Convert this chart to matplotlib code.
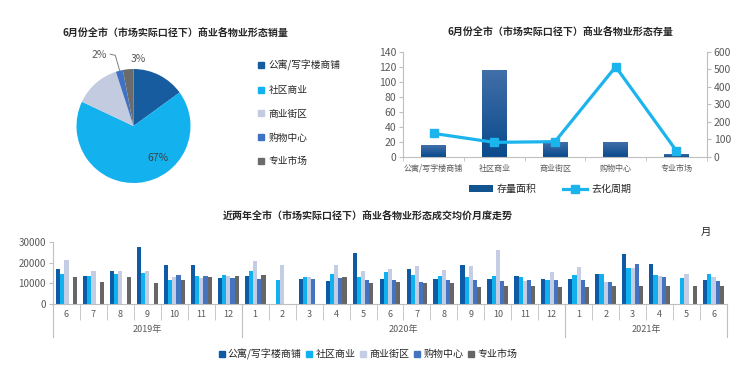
import numpy as np
import matplotlib.pyplot as plt
from matplotlib.colors import LinearSegmentedColormap
from matplotlib.lines import Line2D
from matplotlib.patches import Patch

plt.rcParams['font.family'] = ['Noto Sans CJK SC', 'DejaVu Sans']

# 物业形态
types = ['公寓/写字楼商铺', '社区商业', '商业街区', '购物中心', '专业市场']
type_colors = ['#0E5AA5', '#10B1EF', '#C5CDE4', '#4474C0', '#666666']

# 6月份销量占比 (%)
sales_share = [15, 67, 13, 2, 3]

# 6月份存量
stock_area = [16, 116, 19, 19, 4]        # 存量面积
stock_cycle = [133, 82, 86, 514, 34]     # 去化周期

# 近两年月度成交均价
months = ['6', '7', '8', '9', '10', '11', '12',
          '1', '2', '3', '4', '5', '6', '7', '8', '9', '10', '11', '12',
          '1', '2', '3', '4', '5', '6']
years = ['2019年', '2020年', '2021年']
year_months = [7, 12, 6]
nan = np.nan
price_office = [16900, 13600, 15800, 27400, 18700, 18800, 12500,
                13600, nan, 12300, 11200, 24600, 12300, 16900, 12300, 18700, 12300, 13600, 12300,
                12300, 14700, 23900, 19100, nan, 11500]
price_community = [14500, 13600, 14700, 15000, 11800, 13600, 14000,
                   15800, 11500, 13200, 14700, 13200, 15500, 14000, 13600, 13200, 13600, 12900, 11800,
                   14000, 14400, 17500, 13900, 12400, 14400]
price_street = [21300, 15800, 16100, 15800, 13200, 12500, 13600,
                20700, 18800, 12900, 18800, 15800, 16900, 18300, 16600, 18300, 26000, 11200, 15500,
                17900, 10700, 17200, 13400, 14500, 13100]
price_mall = [nan, nan, nan, nan, 14000, 13600, 12600,
              12300, nan, 12300, 12600, 11800, 11800, 10700, 11500, 11800, 11200, 11500, 11800,
              11800, 10700, 19100, 13100, nan, 11000]
price_market = [13200, 10700, 12900, 10000, 11500, 13200, 13600,
                14000, nan, nan, 12900, 10000, 10700, 10000, 10400, 8300, 8900, 8900, 8300,
                8300, 8600, 8600, 8600, 8600, 8600]

TXT = '#262626'
GRAY = '#595959'
AXC = '#BFBFBF'

W, H = 740, 370
fig = plt.figure(figsize=(7.4, 3.7), dpi=100)


def fx(px):
    return px / W


def fy(py):
    return 1 - py / H


def gradient_bars(ax, bars, top, bottom):
    # 柱子渐变填充
    cmap = LinearSegmentedColormap.from_list('g', [bottom, top])
    grad = np.linspace(0, 1, 64).reshape(-1, 1)
    for b in bars:
        x, y = b.get_xy()
        w, h = b.get_width(), b.get_height()
        im = ax.imshow(grad, extent=[x, x + w, y, y + h], origin='lower',
                       cmap=cmap, aspect='auto', zorder=2)
        im.set_clip_path(b)
        b.set_facecolor('none')


# ---------------- 饼图：销量 ----------------
ax_pie = fig.add_axes([fx(76.5), fy(183), fx(114), 114 / H])
pie_colors = ['#175C9F', '#13B2EE', '#C3CBE0', '#3F72C2', '#6B6B6B']
wedges, _ = ax_pie.pie(sales_share, colors=pie_colors, startangle=90,
                       counterclock=False, radius=1)
ax_pie.set_xlim(-1, 1)
ax_pie.set_ylim(-1, 1)
ax_pie.set_aspect('equal')
ax_pie.axis('off')
ax_pie.text(0.42, -0.56, '%d%%' % sales_share[1], ha='center', va='center',
            fontsize=7.5, color='#404040')
ax_pie.text(0.08, 1.17, '%d%%' % sales_share[4], ha='center', va='center',
            fontsize=7.5, color=GRAY, clip_on=False)
ax_pie.text(-0.47, 1.25, '%d%%' % sales_share[3], ha='right', va='center',
            fontsize=7.5, color=GRAY, clip_on=False)
ax_pie.plot([-0.41, -0.32, -0.24], [1.26, 1.24, 0.965], color='#7F7F7F',
            lw=0.7, clip_on=False)

fig.text(fx(175), fy(33), '6月份全市（市场实际口径下）商业各物业形态销量',
         ha='center', va='center', fontsize=7.2, weight='bold', color=TXT)

pie_handles = [Line2D([], [], marker='s', ls='none', ms=4.5, color=c) for c in pie_colors]
fig.legend(pie_handles, types, loc='upper left', bbox_to_anchor=(fx(257), fy(60)),
           frameon=False, fontsize=7, handlelength=0.8, handletextpad=0.4,
           labelspacing=1.42, borderpad=0, borderaxespad=0, labelcolor=TXT)

# ---------------- 柱线图：存量 ----------------
ax1 = fig.add_axes([fx(403.3), fy(156.7), fx(303.4), 105 / H])
x = np.arange(len(types))
bars = ax1.bar(x, stock_area, width=0.41, zorder=2)
gradient_bars(ax1, bars, '#416FA8', '#0A4A8C')
ax1.set_xlim(-0.5, len(types) - 0.5)
ax1.set_ylim(0, 140)
ax1.set_yticks(range(0, 141, 20))
ax1.set_xticks(x)
ax1.set_xticklabels(types)
ax1.set_xticks(np.arange(-0.5, len(types), 1), minor=True)
ax1.tick_params(axis='x', which='major', length=0, labelsize=5.8, labelcolor=GRAY, pad=5)
ax1.tick_params(axis='x', which='minor', length=3, color=AXC)
ax1.tick_params(axis='y', length=3, color=AXC, labelsize=7.5, labelcolor=GRAY, pad=2)
for s in ['top', 'right']:
    ax1.spines[s].set_visible(False)
for s in ['left', 'bottom']:
    ax1.spines[s].set_color(AXC)

ax2 = ax1.twinx()
ax2.plot(x, stock_cycle, color='#1BB4EC', lw=2.3, marker='s', ms=6, zorder=3)
ax2.set_ylim(0, 600)
ax2.set_yticks(range(0, 601, 100))
ax2.tick_params(axis='y', length=3, color=AXC, labelsize=7.5, labelcolor=GRAY, pad=2)
for s in ['top', 'left', 'bottom']:
    ax2.spines[s].set_visible(False)
ax2.spines['right'].set_color(AXC)

fig.text(fx(560), fy(32), '6月份全市（市场实际口径下）商业各物业形态存量',
         ha='center', va='center', fontsize=7.2, weight='bold', color=TXT)
fig.legend([Patch(facecolor='#12548F'),
            Line2D([], [], color='#1BB4EC', lw=2.3, marker='s', ms=6)],
           ['存量面积', '去化周期'], loc='center', bbox_to_anchor=(fx(550), fy(189)),
           ncol=2, frameon=False, fontsize=7.2, handlelength=2.4, handletextpad=0.4,
           columnspacing=2.6, labelcolor=TXT)

# ---------------- 分组柱图：月度均价 ----------------
ax3 = fig.add_axes([fx(53), fy(304.3), fx(674), 62.6 / H])
series = [price_office, price_community, price_street, price_mall, price_market]
n = len(months)
xm = np.arange(n)
bw = 0.155
for i, (vals, c) in enumerate(zip(series, type_colors)):
    ax3.bar(xm + (i - 2) * bw, vals, width=bw, color=c, zorder=2)
ax3.set_xlim(-0.5, n - 0.5)
ax3.set_ylim(0, 30000)
ax3.set_yticks(range(0, 30001, 10000))
ax3.set_xticks(xm)
ax3.set_xticklabels(months)
ax3.set_xticks(np.arange(-0.5, n, 1), minor=True)
ax3.tick_params(axis='x', which='major', length=0, labelsize=6.5, labelcolor=GRAY, pad=4)
ax3.tick_params(axis='x', which='minor', length=11.5, color=AXC)
ax3.tick_params(axis='y', length=3, color=AXC, labelsize=7, labelcolor=GRAY, pad=2)
for s in ['top', 'right']:
    ax3.spines[s].set_visible(False)
for s in ['left', 'bottom']:
    ax3.spines[s].set_color(AXC)

ah = 62.6
bounds = np.concatenate([[0], np.cumsum(year_months)]) - 0.5
for b in bounds:
    ax3.plot([b, b], [0, -33 / ah], transform=ax3.get_xaxis_transform(),
             clip_on=False, color=AXC, lw=0.8)
for yl, a, b in zip(years, bounds[:-1], bounds[1:]):
    ax3.text((a + b) / 2, -25 / ah, yl, transform=ax3.get_xaxis_transform(),
             ha='center', va='center', fontsize=6.5, color=GRAY)

fig.text(fx(368), fy(216), '近两年全市（市场实际口径下）商业各物业形态成交均价月度走势',
         ha='center', va='center', fontsize=7.2, weight='bold', color=TXT)
fig.text(fx(706), fy(232), '月', ha='center', va='center', fontsize=7.5, color=TXT)

bar_handles = [Line2D([], [], marker='s', ls='none', ms=4, color=c) for c in type_colors]
fig.legend(bar_handles, types, loc='center', bbox_to_anchor=(fx(368), fy(354)),
           ncol=5, frameon=False, fontsize=7.2, handlelength=0.6, handletextpad=0.3,
           columnspacing=0.5, labelcolor=TXT)

fig.savefig('out.png', dpi=100)
